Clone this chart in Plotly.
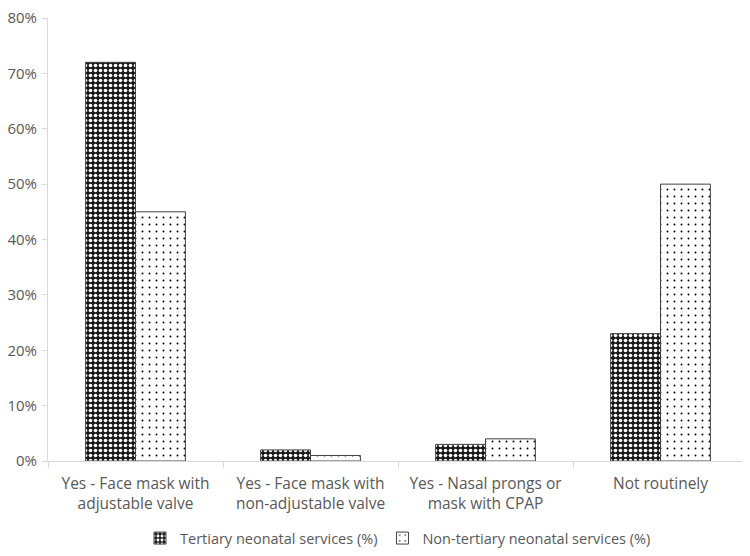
import plotly.graph_objects as go

categories = [
    "Yes - Face mask with<br>adjustable valve",
    "Yes - Face mask with<br>non-adjustable valve",
    "Yes - Nasal prongs or<br>mask with CPAP",
    "Not routinely",
]
tertiary = [72, 2, 3, 23]
non_tertiary = [45, 1, 4, 50]
y_ticks = [0, 10, 20, 30, 40, 50, 60, 70, 80]

fig = go.Figure()

# dunkles Kreuzmuster
fig.add_trace(go.Bar(
    x=categories,
    y=tertiary,
    name="Tertiary neonatal services (%)",
    marker=dict(
        color="#1a1a1a",
        line=dict(color="#404040", width=1),
        pattern=dict(shape=".", fgcolor="white", bgcolor="#1a1a1a", size=5, solidity=0.42, fillmode="replace"),
    ),
))

# helles Punktmuster
fig.add_trace(go.Bar(
    x=categories,
    y=non_tertiary,
    name="Non-tertiary neonatal services (%)",
    marker=dict(
        color="white",
        line=dict(color="#404040", width=1),
        pattern=dict(shape=".", fgcolor="black", bgcolor="white", size=7, solidity=0.06, fillmode="replace"),
    ),
))

# the page body has an 8px margin, so the figure is 16px smaller than the window
fig.update_layout(
    width=742,
    height=548,
    barmode="group",
    bargap=0.43,
    bargroupgap=0,
    plot_bgcolor="white",
    paper_bgcolor="white",
    font=dict(family="Open Sans, Lato, sans-serif", size=15, color="#595959"),
    margin=dict(l=40, r=2, t=10, b=95, autoexpand=False),
    legend=dict(
        orientation="h",
        x=0.5,
        xanchor="center",
        y=-0.138,
        yanchor="top",
        traceorder="normal",
        font=dict(size=14.5),
    ),
)

fig.update_xaxes(
    showline=True,
    linecolor="#d9d9d9",
    linewidth=1,
    ticks="outside",
    tickson="boundaries",
    ticklen=6,
    tickcolor="#d9d9d9",
    showgrid=False,
    tickfont=dict(size=15.5),
    ticklabelstandoff=8,
    automargin=False,
)

fig.update_yaxes(
    range=[0, 80],
    tickvals=y_ticks,
    ticktext=[f"{v}%" for v in y_ticks],
    showline=True,
    linecolor="#d9d9d9",
    linewidth=1,
    ticks="outside",
    ticklen=5,
    tickcolor="#d9d9d9",
    showgrid=False,
    zeroline=False,
    automargin=False,
    ticklabeloverflow="allow",
    ticklabelstandoff=2,
    tickfont=dict(size=15),
)

fig.write_html("out.html")
